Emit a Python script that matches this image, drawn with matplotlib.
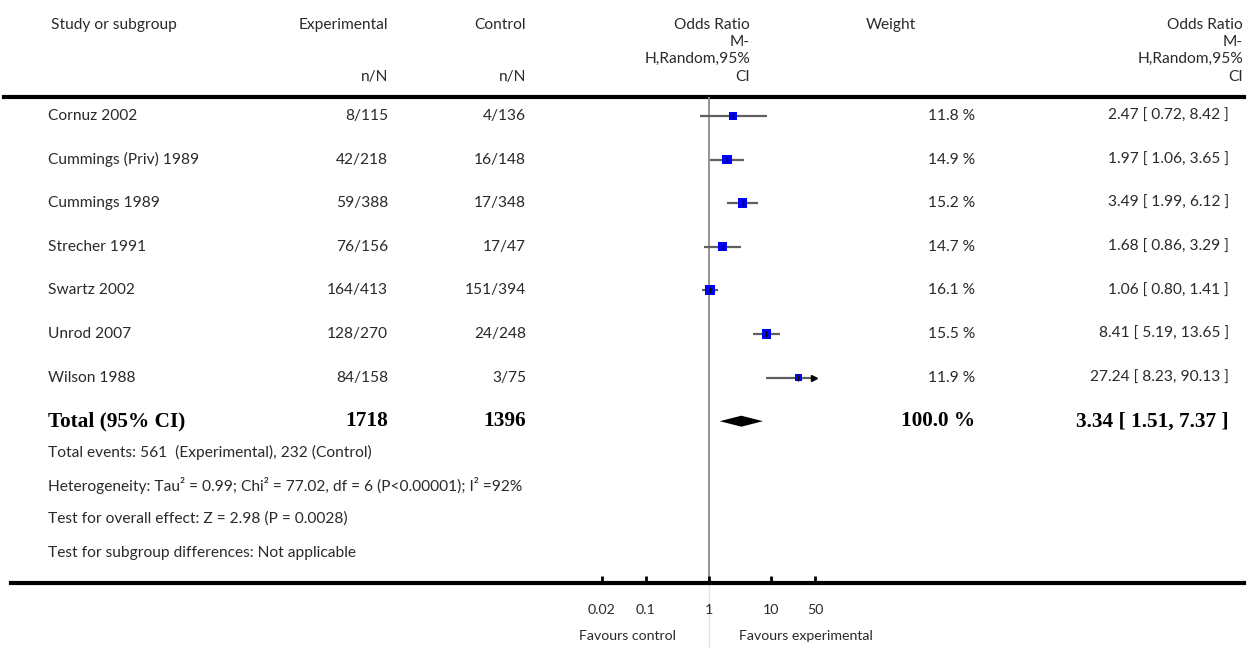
import matplotlib
matplotlib.use("Agg")
import matplotlib.pyplot as plt
import matplotlib.transforms as mtransforms
import numpy as np

# ---------------- data ----------------
studies = ["Cornuz 2002", "Cummings (Priv) 1989", "Cummings 1989", "Strecher 1991",
           "Swartz 2002", "Unrod 2007", "Wilson 1988"]
exp_nN = ["8/115", "42/218", "59/388", "76/156", "164/413", "128/270", "84/158"]
ctl_nN = ["4/136", "16/148", "17/348", "17/47", "151/394", "24/248", "3/75"]
odds = [2.47, 1.97, 3.49, 1.68, 1.06, 8.41, 27.24]
ci_low = [0.72, 1.06, 1.99, 0.86, 0.80, 5.19, 8.23]
ci_high = [8.42, 3.65, 6.12, 3.29, 1.41, 13.65, 90.13]
weights = [11.8, 14.9, 15.2, 14.7, 16.1, 15.5, 11.9]

total_exp = "1718"
total_ctl = "1396"
total_or = 3.34
total_lo = 1.51
total_hi = 7.37
total_weight = "100.0 %"

footer_lines = [
    "Total events: 561  (Experimental), 232 (Control)",
    "Heterogeneity: Tau² = 0.99; Chi² = 77.02, df = 6 (P<0.00001); I² =92%",
    "Test for overall effect: Z = 2.98 (P = 0.0028)",
    "Test for subgroup differences: Not applicable",
]
tick_values = [0.02, 0.1, 1, 10, 50]
tick_labels = ["0.02", "0.1", "1", "10", "50"]
x_limits = (0.02, 50)

# ---------------- layout ----------------
W, H = 1259, 648
fig = plt.figure(figsize=(W / 100, H / 100), dpi=100)
ax = fig.add_axes([0, 0, 1, 1])
ax.set_xlim(0, W)
ax.set_ylim(H, 0)
ax.axis("off")

SANS = ["Lato", "DejaVu Sans"]
SERIF = ["Liberation Serif", "DejaVu Serif"]
TXT = "#2a2a2a"
FS = 11.2
FW = "normal"
FSB = 15.3
FST = 10.2

top_line_y = 97
bot_line_y = 583
row0 = 116
row_step = 43.6

def row_y(i):
    return row0 + row_step * i

def t(x, y, s, ha="left", **kw):
    opts = dict(ha=ha, va="center", fontsize=FS, color=TXT, family=SANS, fontweight=FW)
    opts.update(kw)
    ax.text(x, y, s, **opts)

# forest axes
fx0, fx1 = 602, 815
ax_f = fig.add_axes([fx0 / W, (H - bot_line_y) / H, (fx1 - fx0) / W, (bot_line_y - top_line_y) / H])
ax_f.set_xscale("log")
ax_f.set_xlim(*x_limits)
ax_f.set_ylim(bot_line_y, top_line_y)
ax_f.patch.set_alpha(0)
for s in ax_f.spines.values():
    s.set_visible(False)
ax_f.set_yticks([])
ax_f.set_xticks(tick_values)
ax_f.set_xticklabels(tick_labels, fontfamily=SANS, fontsize=FST, color=TXT, fontweight=FW)
ax_f.xaxis.set_minor_locator(matplotlib.ticker.NullLocator())
ax_f.tick_params(axis="x", direction="in", length=5, width=2, color="black", pad=15)

# reference line at 1
ax_f.axvline(1, color="#8a8a8a", lw=1.3, zorder=1)
blend = mtransforms.blended_transform_factory(ax_f.transData, ax.transData)
ax.plot([1, 1], [bot_line_y, H], color="#e2e2e2", lw=1.0, transform=blend, clip_on=False)

# study rows
ys = [row_y(i) for i in range(len(studies))]
xmax = x_limits[1]
for y, o, lo, hi, w in zip(ys, odds, ci_low, ci_high, weights):
    ax_f.plot([lo, min(hi, xmax * 0.98)], [y, y], color="#5f5f5f", lw=1.6, zorder=2, solid_capstyle="butt")
    if hi > xmax:
        ax_f.plot([xmax * 0.98], [y], marker=">", color="black", markersize=4, zorder=3, clip_on=False)
    side_pt = 0.62 * w * 0.72
    ax_f.scatter([o], [y], marker="s", s=side_pt ** 2, color="#0000ff", edgecolors="none", zorder=3)
    ax_f.plot([o], [y], marker="|", color="black", markersize=4, mew=1.0, zorder=4)

# diamond
yt = row_y(len(studies))
dh = 5.5
ax_f.fill([total_lo, total_or, total_hi, total_or], [yt, yt - dh, yt, yt + dh],
          color="black", zorder=3, lw=0)

# thick lines
ax.plot([4, 1244], [top_line_y, top_line_y], color="black", lw=3)
ax.plot([11, 1244], [bot_line_y, bot_line_y], color="black", lw=3)

# headers
hy = [25, 42, 59, 77]
t(51, hy[0], "Study or subgroup")
t(388, hy[0], "Experimental", ha="right")
t(388, hy[3], "n/N", ha="right")
t(526, hy[0], "Control", ha="right")
t(526, hy[3], "n/N", ha="right")
for xr in (750, 1243):
    for yy, s in zip(hy, ["Odds Ratio", "M-", "H,Random,95%", "CI"]):
        t(xr, yy, s, ha="right")
t(866, hy[0], "Weight")

# study text
for y, s, e, c, o, lo, hi, w in zip(ys, studies, exp_nN, ctl_nN, odds, ci_low, ci_high, weights):
    t(48, y, s)
    t(388, y, e, ha="right")
    t(526, y, c, ha="right")
    t(975, y, f"{w:.1f} %", ha="right")
    t(1229, y, f"{o:.2f} [ {lo:.2f}, {hi:.2f} ]", ha="right")

# total row
bold = dict(fontsize=FSB, fontweight="bold", color="black", family=SERIF)
t(48, yt, "Total (95% CI)", **bold)
t(388, yt, total_exp, ha="right", **bold)
t(526, yt, total_ctl, ha="right", **bold)
t(975, yt, total_weight, ha="right", **bold)
t(1229, yt, f"{total_or:.2f} [ {total_lo:.2f}, {total_hi:.2f} ]", ha="right", **bold)

# footer
for i, s in enumerate(footer_lines):
    t(48, 452 + 33.5 * i, s)

# favours labels
t(676, 636, "Favours control", ha="right", fontsize=FST)
t(739, 636, "Favours experimental", fontsize=FST)

fig.savefig("out.png", dpi=100)
